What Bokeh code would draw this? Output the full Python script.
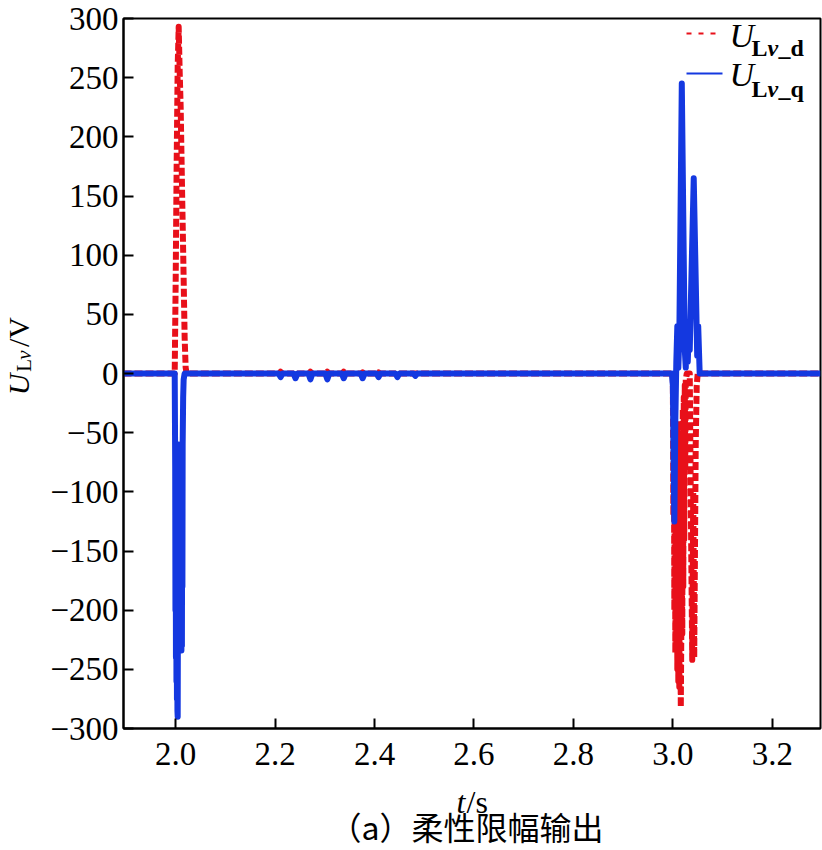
import math
from bokeh.plotting import figure
from bokeh.models import Label, Arrow, FixedTicker, Range1d
from bokeh.layouts import row, column
from bokeh.embed import file_html
from bokeh.resources import INLINE

# ---- data ----
t_d = [1.895, 1.998, 2.000, 2.002, 2.004, 2.006, 2.008, 2.010, 2.013, 2.016, 2.018, 2.020, 2.022,
       2.208, 2.211, 2.214, 2.238, 2.241, 2.244, 2.268, 2.271, 2.274, 2.302, 2.305, 2.308,
       2.335, 2.338, 2.341, 2.373, 2.376, 2.379, 2.405, 2.408, 2.411, 2.443, 2.446, 2.449,
       2.998, 3.000, 3.001, 3.002, 3.003, 3.004, 3.005, 3.006, 3.007, 3.008, 3.009, 3.010,
       3.011, 3.012, 3.013, 3.014, 3.016, 3.018, 3.019, 3.020, 3.021, 3.022, 3.023, 3.024,
       3.025, 3.026, 3.028, 3.034, 3.037, 3.039, 3.041, 3.043, 3.046, 3.048, 3.050, 3.297]
u_d = [0, 0, 80, 180, 260, 293, 255, 225, 150, 80, 30, 5, 0,
       0, 1.5, 0, 0, 1.5, 0, 0, 1.5, 0, 0, 1.5, 0,
       0, 1.5, 0, 0, 1, 0, 0, 1, 0, 0, 1, 0,
       0, 0, -120, -30, -200, -60, -236, -90, -230, -40, -250, -120,
       -260, -50, -265, -150, -282, -160, -220, -30, -180, -20, -140, -10,
       -80, -5, 0, 0, -150, -242, -100, -240, -60, -10, 0, 0]

t_q = [1.895, 1.998, 1.999, 1.9995, 2.000, 2.0005, 2.001, 2.0015, 2.002, 2.0025, 2.003,
       2.0035, 2.004, 2.0045, 2.005, 2.0055, 2.006, 2.0065, 2.007, 2.0075, 2.008, 2.0085,
       2.009, 2.0095, 2.010, 2.0105, 2.011, 2.0115, 2.012, 2.0125, 2.013, 2.0135, 2.014,
       2.015, 2.016, 2.018,
       2.207, 2.211, 2.215, 2.237, 2.241, 2.245, 2.267, 2.271, 2.275, 2.301, 2.305, 2.309,
       2.334, 2.338, 2.342, 2.372, 2.376, 2.380, 2.404, 2.408, 2.412, 2.442, 2.446, 2.450,
       2.478, 2.482, 2.486,
       2.998, 3.000, 3.003, 3.005, 3.007, 3.009, 3.011, 3.013, 3.018, 3.024, 3.026, 3.028,
       3.030, 3.032, 3.034, 3.042, 3.049, 3.051, 3.054, 3.297]
u_q = [0, 0, -80, -200, -100, -240, -120, -260, -150, -275, -180,
       -285, -290, -200, -120, -230, -60, -220, -70, -225, -80, -230,
       -70, -230, -60, -232, -90, -234, -120, -230, -100, -180, -60,
       -20, -5, 0,
       0, -3, 0, 0, -4, 0, 0, -5, 0, 0, -5, 0,
       0, -4, 0, 0, -4, 0, 0, -3, 0, 0, -3, 0,
       0, -2, 0,
       0, -10, -125, -40, 10, 40, 5, 30, 245, 20, 5, 40,
       10, 35, 20, 165, 15, 40, 0, 0]

x_ticks = [2.0, 2.2, 2.4, 2.6, 2.8, 3.0, 3.2]
x_tick_labels = ["2.0", "2.2", "2.4", "2.6", "2.8", "3.0", "3.2"]
y_ticks = [-300, -250, -200, -150, -100, -50, 0, 50, 100, 150, 200, 250, 300]
y_tick_labels = ["\u2212300", "\u2212250", "\u2212200", "\u2212150", "\u2212100", "\u221250",
                 "0", "50", "100", "150", "200", "250", "300"]

RED = "#e8101a"
BLUE = "#1438e0"
SERIF = "Liberation Serif"
CJK = "Noto Sans CJK SC"

# ---------------- main plot ----------------
p = figure(width=782, height=780, x_range=(1.895, 3.297), y_range=(-300, 300),
           output_backend="svg", toolbar_location=None,
           min_border_left=83, min_border_right=2, min_border_top=18, min_border_bottom=52)
p.background_fill_color = "white"
p.border_fill_color = "white"
p.outline_line_color = "black"
p.outline_line_width = 2
p.xgrid.visible = False
p.ygrid.visible = False

p.line(t_d, u_d, line_color=RED, line_width=6, line_dash="8 3", line_join="round")
p.line(t_q, u_q, line_color=BLUE, line_width=6, line_join="round")

for ax in (p.xaxis[0], p.yaxis[0]):
    ax.axis_line_width = 2
    ax.axis_line_color = "black"
    ax.major_tick_in = 10
    ax.major_tick_out = 0
    ax.major_tick_line_width = 2
    ax.minor_tick_line_color = None
    ax.major_label_text_font = SERIF
    ax.major_label_text_font_size = "33px"
    ax.major_label_text_color = "black"

p.xaxis[0].ticker = FixedTicker(ticks=x_ticks)
p.xaxis[0].major_label_overrides = dict(zip(x_ticks, x_tick_labels))
p.xaxis[0].major_label_standoff = 14
p.yaxis[0].ticker = FixedTicker(ticks=y_ticks)
p.yaxis[0].major_label_overrides = dict(zip(y_ticks, y_tick_labels))
p.yaxis[0].major_label_standoff = 5


def lab(fig, text, x, y, size, style="normal", font=SERIF, angle=0, align="left",
        baseline="alphabetic", units="data"):
    fig.add_layout(Label(text=text, x=x, y=y, x_units=units, y_units=units,
                         text_font=font, text_font_size=f"{size}px", text_font_style=style,
                         text_color="black", angle=angle, text_align=align,
                         text_baseline=baseline))


# legend (frame-relative screen units)
p.add_layout(Arrow(end=None, x_start=563, y_start=695, x_end=599, y_end=695,
                   start_units="screen", end_units="screen",
                   line_color=RED, line_width=2, line_dash="5 7"))
p.add_layout(Arrow(end=None, x_start=563, y_start=655, x_end=599, y_end=655,
                   start_units="screen", end_units="screen",
                   line_color=BLUE, line_width=2))
for yb, ys, sub in ((693, 681, "_d"), (654, 640, "_q")):
    lab(p, "U", 606, yb, 34, "italic", units="screen")
    lab(p, "L", 628, ys, 24, "bold", units="screen")
    lab(p, "v", 644, ys, 24, "bold italic", units="screen")
    lab(p, sub, 655, ys, 24, "bold", units="screen")


def blank(w, h):
    f = figure(width=w, height=h, x_range=Range1d(0, w), y_range=Range1d(0, h),
               output_backend="svg", toolbar_location=None,
               x_axis_location=None, y_axis_location=None, min_border=0)
    f.grid.visible = False
    f.outline_line_color = None
    f.background_fill_color = "white"
    f.border_fill_color = "white"
    return f


# ---------------- y-axis title (rotated) ----------------
yl = blank(40, 780)
a = math.pi / 2
lab(yl, "U", 18, 366, 30, "italic", angle=a)
lab(yl, "L", 23, 392, 21, angle=a)
lab(yl, "v", 23, 405, 21, "italic", angle=a)
lab(yl, "/V", 18, 419, 30, angle=a)

# ---------------- x-axis title and caption ----------------
bt = blank(822, 70)
lab(bt, "t", 456, 49, 32, "italic")
lab(bt, "/s", 466, 49, 32)
lab(bt, "（a）柔性限幅输出", 466, 25, 32, font=CJK, align="center")

layout = column(row(yl, p), bt)
open("out.html", "w").write(file_html(layout, INLINE))
